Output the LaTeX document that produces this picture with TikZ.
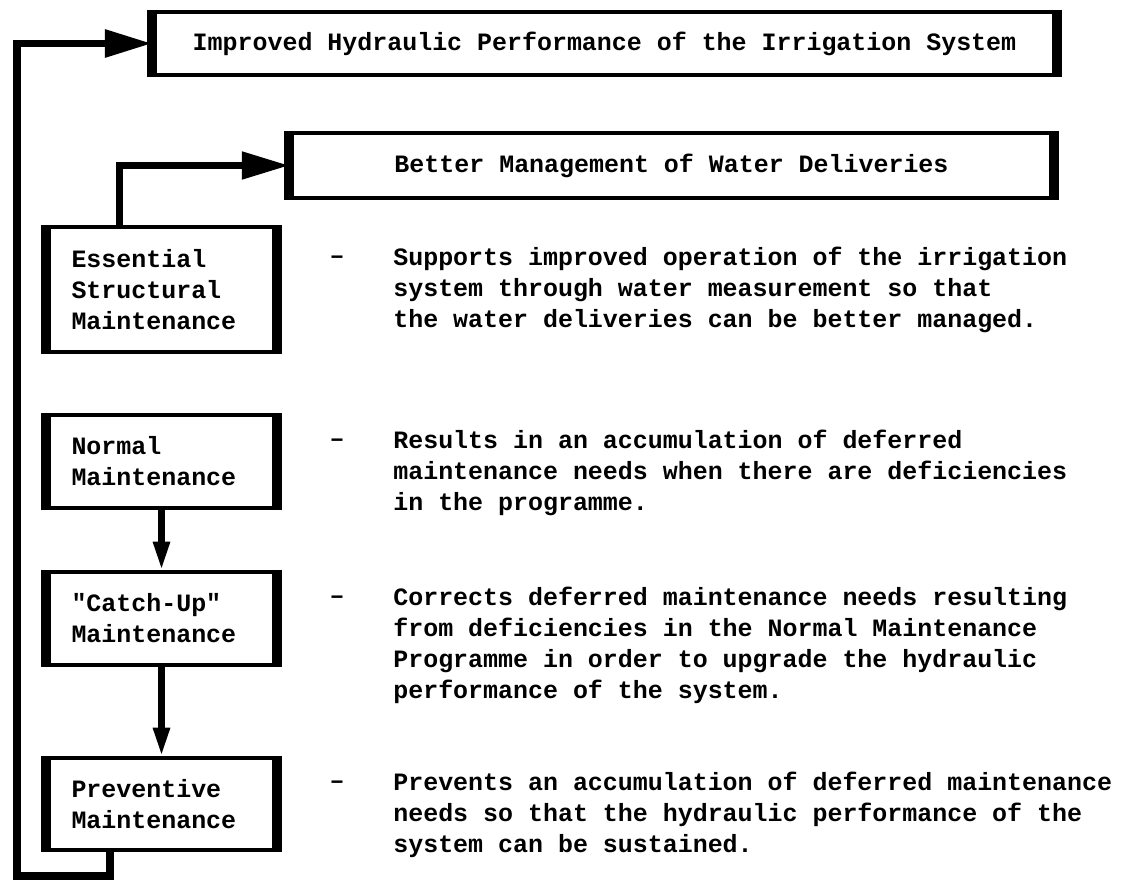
\documentclass[tikz,border=0pt]{standalone}
\usepackage{fontspec}
\setmainfont{Liberation Mono}[Ligatures=TeXOff]
\usetikzlibrary{arrows.meta}

\begin{document}
\begin{tikzpicture}[
    schrift/.style={font=\bfseries\fontsize{14.2pt}{17.6pt}\selectfont},
    ziel/.style={
      schrift,
      rectangle,
      draw,
      line width=2.5pt,
      minimum height=1.26cm},
    kasten/.style={
      schrift,
      rectangle,
      draw,
      line width=2.5pt,
      text width=3.6cm,
      inner xsep=.47cm,
      align=left},
    erklaerung/.style={schrift, anchor=north west, inner sep=0pt, align=left},
    pfeil/.style={line width=3.5pt, -{Triangle[length=16pt,width=9pt]}},
    hauptpfeil/.style={line width=4pt, -{Triangle[length=27pt,width=15pt]}},
    seite/.style={line width=5.5pt}
    ]

  \useasboundingbox (0,0) rectangle (22.48,-17.62);

  \node at (12.09,-.87) (ziel0) [ziel, minimum width=18cm] {Improved Hydraulic Performance of the Irrigation System};
  \node at (13.43,-3.31) (ziel1) [ziel, minimum width=15.2cm, minimum height=1.3cm] {Better Management of Water Deliveries};

  \node at (3.23,-5.79) (kasten0) [kasten, minimum height=2.5cm] {Essential\\Structural\\Maintenance};
  \node at (3.23,-9.23) (kasten1) [kasten, minimum height=1.86cm] {Normal\\Maintenance};
  \node at (3.23,-12.37) (kasten2) [kasten, minimum height=1.86cm] {"Catch-Up"\\Maintenance};
  \node at (3.23,-16.08) (kasten3) [kasten, minimum height=1.84cm] {Preventive\\Maintenance};

  \node at (6.74,-5.2) (strich0) [schrift] {\textendash};
  \node at (6.74,-8.86) (strich1) [schrift] {\textendash};
  \node at (6.74,-12.0) (strich2) [schrift] {\textendash};
  \node at (6.74,-15.7) (strich3) [schrift] {\textendash};

  \node at (7.86,-4.94) (text0) [erklaerung] {Supports improved operation of the irrigation\\system through water measurement so that\\the water deliveries can be better managed.};
  \node at (7.86,-8.6) (text1) [erklaerung] {Results in an accumulation of deferred\\maintenance needs when there are deficiencies\\in the programme.};
  \node at (7.86,-11.74) (text2) [erklaerung] {Corrects deferred maintenance needs resulting\\from deficiencies in the Normal Maintenance\\Programme in order to upgrade the hydraulic\\performance of the system.};
  \node at (7.86,-15.44) (text3) [erklaerung] {Prevents an accumulation of deferred maintenance\\needs so that the hydraulic performance of the\\system can be sustained.};

  % dicke Seitenkanten
  \foreach \n in {ziel0,ziel1,kasten0,kasten1,kasten2,kasten3}
    \draw [seite] (\n.north west) -- (\n.south west) (\n.north east) -- (\n.south east);

  \coordinate (ecke) at (.34,-17.52);

  \path [pfeil] (kasten1) edge [] (kasten2);
  \path [pfeil] (kasten2) edge [] (kasten3);
  \draw [hauptpfeil] ([xshift=1.47cm]kasten0.north west) |- (ziel1.west);
  \draw [hauptpfeil, line width=4.5pt] ([xshift=1.29cm]kasten3.south west) |- (ecke) |- (ziel0.west);

\end{tikzpicture}
\end{document}
